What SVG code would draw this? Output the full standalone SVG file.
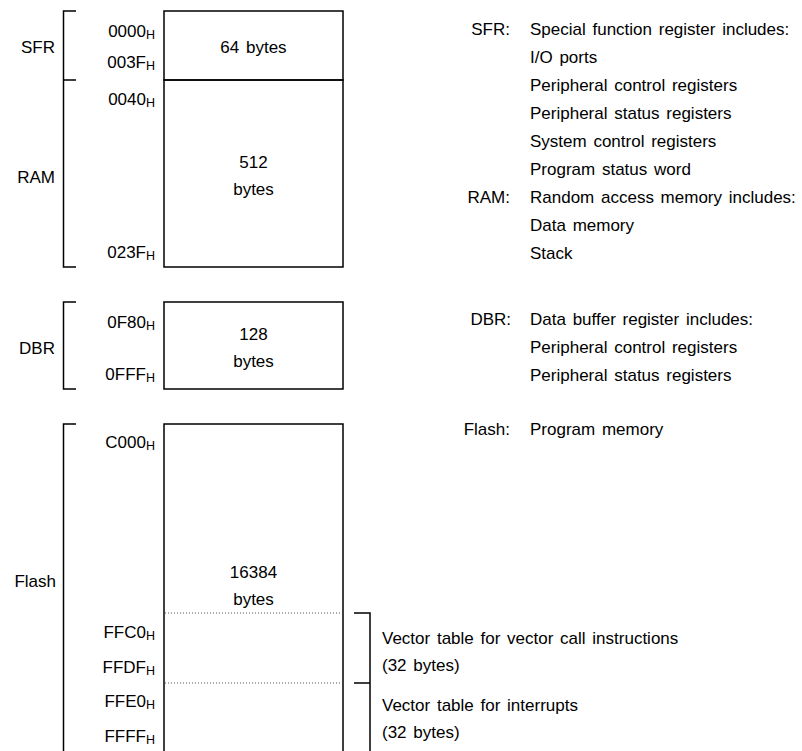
<svg xmlns="http://www.w3.org/2000/svg" width="802" height="751" viewBox="0 0 802 751">
<style>
text{font-family:"Liberation Sans",Arial,sans-serif;font-size:17px;word-spacing:2px;fill:#000}
.e{text-anchor:end}
.m{text-anchor:middle}
.s{font-size:12.5px}
.box{fill:none;stroke:#000;stroke-width:1.5}
.br{fill:none;stroke:#000;stroke-width:1.5}
.dot{stroke:#555;stroke-width:1;stroke-dasharray:1 2}
</style>
<rect width="802" height="751" fill="#fff"/>
<g id="sfr">
<rect class="box" x="164" y="11" width="179" height="69"/>
<text class="m" x="253.5" y="53">64 bytes</text>
<text class="e" x="155" y="37">0000<tspan class="s" dy="2">H</tspan></text>
<text class="e" x="155" y="68">003F<tspan class="s" dy="2">H</tspan></text>
<text class="e" x="55" y="53">SFR</text>
</g>
<g id="ram">
<rect class="box" x="164" y="80" width="179" height="187"/>
<text class="m" x="253.5" y="168">512</text>
<text class="m" x="253.5" y="195">bytes</text>
<text class="e" x="155" y="105">0040<tspan class="s" dy="2">H</tspan></text>
<text class="e" x="155" y="258">023F<tspan class="s" dy="2">H</tspan></text>
<text class="e" x="55" y="183">RAM</text>
</g>
<g id="dbr">
<rect class="box" x="164" y="302" width="179" height="87"/>
<text class="m" x="253.5" y="340">128</text>
<text class="m" x="253.5" y="367">bytes</text>
<text class="e" x="155" y="328">0F80<tspan class="s" dy="2">H</tspan></text>
<text class="e" x="155" y="380">0FFF<tspan class="s" dy="2">H</tspan></text>
<text class="e" x="55" y="354">DBR</text>
</g>
<g id="flash">
<path class="box" d="M164,760 V424 H343 V760"/>
<line class="dot" x1="165" y1="613" x2="342" y2="613"/>
<line class="dot" x1="165" y1="683" x2="342" y2="683"/>
<text class="m" x="253.5" y="578">16384</text>
<text class="m" x="253.5" y="605">bytes</text>
<text class="e" x="155" y="448">C000<tspan class="s" dy="2">H</tspan></text>
<text class="e" x="155" y="638">FFC0<tspan class="s" dy="2">H</tspan></text>
<text class="e" x="155" y="673">FFDF<tspan class="s" dy="2">H</tspan></text>
<text class="e" x="155" y="707">FFE0<tspan class="s" dy="2">H</tspan></text>
<text class="e" x="155" y="742">FFFF<tspan class="s" dy="2">H</tspan></text>
<text class="e" x="56" y="587">Flash</text>
</g>
<g id="connectors">
<path class="br" d="M76,11 H63.5 V267 H76 M63.5,80 H76"/>
<path class="br" d="M76,302 H63.5 V389 H76"/>
<path class="br" d="M76,424 H63.5 V760"/>
<path class="br" d="M354,613 H370 V760 M354,683 H370"/>
</g>
<g id="legend">
<text class="e" x="510" y="35">SFR:</text>
<text x="530" y="35">Special function register includes:</text>
<text x="530" y="63">I/O ports</text>
<text x="530" y="91">Peripheral control registers</text>
<text x="530" y="119">Peripheral status registers</text>
<text x="530" y="147">System control registers</text>
<text x="530" y="175">Program status word</text>
<text class="e" x="510" y="203">RAM:</text>
<text x="530" y="203">Random access memory includes:</text>
<text x="530" y="231">Data memory</text>
<text x="530" y="259">Stack</text>
<text class="e" x="511" y="325">DBR:</text>
<text x="530" y="325">Data buffer register includes:</text>
<text x="530" y="353">Peripheral control registers</text>
<text x="530" y="381">Peripheral status registers</text>
<text class="e" x="510" y="435">Flash:</text>
<text x="530" y="435">Program memory</text>
<text x="382" y="644">Vector table for vector call instructions</text>
<text x="382" y="671">(32 bytes)</text>
<text x="382" y="711">Vector table for interrupts</text>
<text x="382" y="738">(32 bytes)</text>
</g>
</svg>
